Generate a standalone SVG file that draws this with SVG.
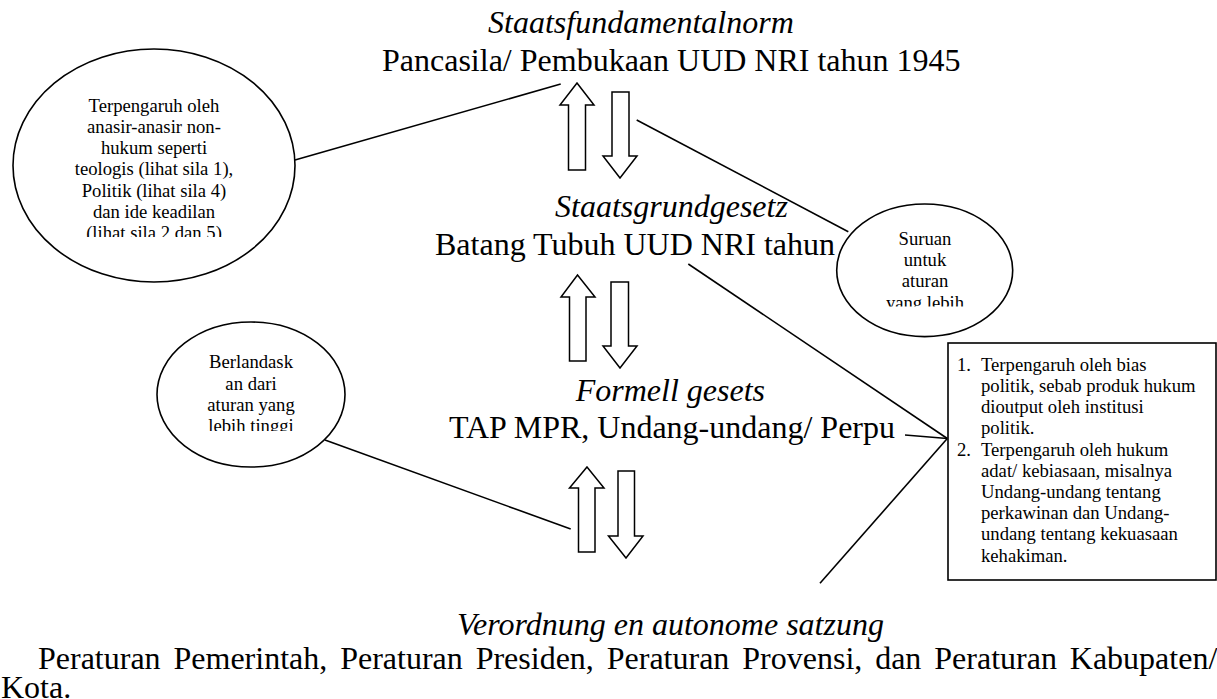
<svg xmlns="http://www.w3.org/2000/svg" width="1217" height="699" viewBox="0 0 1217 699">
<style>
  .bg { fill: #ffffff; }
  .shape { fill: #ffffff; stroke: #000000; stroke-width: 1.6; }
  .arrow { fill: #ffffff; stroke: #000000; stroke-width: 1.5; stroke-linejoin: miter; }
  .conn { fill: none; stroke: #000000; stroke-width: 1.6; }
  .main { font-family: "Liberation Serif", "Times New Roman", serif; font-size: 32px; fill: #000000; }
  .ital { font-family: "Liberation Serif", "Times New Roman", serif; font-size: 32px; font-style: italic; fill: #000000; }
  .small { font-family: "Liberation Serif", "Times New Roman", serif; font-size: 18.67px; fill: #000000; }
  .mid { text-anchor: middle; }
</style>
<defs>
  <clipPath id="clipBig"><rect x="0" y="0" width="320" height="237"/></clipPath>
  <clipPath id="clipRight"><rect x="820" y="180" width="210" height="126.5"/></clipPath>
  <clipPath id="clipLeft"><rect x="140" y="300" width="220" height="131"/></clipPath>
</defs>
<rect class="bg" x="0" y="0" width="1217" height="699"/>

<g id="connectors">
  <line class="conn" x1="295" y1="160" x2="560.7" y2="84"/>
  <line class="conn" x1="636.7" y1="120" x2="848.3" y2="231.7"/>
  <line class="conn" x1="688.3" y1="264" x2="947.3" y2="438.5"/>
  <line class="conn" x1="905" y1="435" x2="947.3" y2="438.5"/>
  <line class="conn" x1="820" y1="583.3" x2="947.3" y2="438.5"/>
  <line class="conn" x1="325" y1="440" x2="570.7" y2="529"/>
</g>

<g id="arrows1">
  <polygon class="arrow" points="577,83 594,105 585.5,105 585.5,170 568.5,170 568.5,105 560,105"/>
  <polygon class="arrow" points="612,92 629,92 629,156 637,156 620,178 603,156 612,156"/>
</g>
<g id="arrows2">
  <polygon class="arrow" points="577.5,275 595,297 586,297 586,361 569.5,361 569.5,297 561,297"/>
  <polygon class="arrow" points="611,282 628.5,282 628.5,346 637,346 620,368 603,346 611,346"/>
</g>
<g id="arrows3">
  <polygon class="arrow" points="587,467 604,488 595,488 595,552 578.5,552 578.5,488 569.5,488"/>
  <polygon class="arrow" points="618,471 634.5,471 634.5,536 643,536 626,558 608.5,536 618,536"/>
</g>

<g id="staatsfundamentalnorm">
  <text class="ital" x="488" y="33">Staatsfundamentalnorm</text>
  <text class="main" x="382" y="71">Pancasila/ Pembukaan UUD NRI tahun 1945</text>
</g>

<g id="staatsgrundgesetz">
  <text class="ital" x="555" y="217">Staatsgrundgesetz</text>
  <text class="main" x="835" y="255" text-anchor="end">Batang Tubuh UUD NRI tahun</text>
</g>

<g id="formell">
  <text class="ital" x="765" y="401" text-anchor="end">Formell gesets</text>
  <text class="main" x="895" y="438" text-anchor="end">TAP MPR, Undang-undang/ Perpu</text>
</g>

<g id="verordnung">
  <text class="ital" x="457" y="635">Verordnung en autonome satzung</text>
  <text class="main" x="38" y="669" word-spacing="4.9">Peraturan Pemerintah, Peraturan Presiden, Peraturan Provensi, dan Peraturan Kabupaten/</text>
  <text class="main" x="1" y="698">Kota.</text>
</g>

<g id="ellipse-nonhukum">
  <ellipse class="shape" cx="154" cy="165.5" rx="141" ry="116.5"/>
  <g clip-path="url(#clipBig)">
    <text class="small mid" x="154" y="111.7">Terpengaruh oleh</text>
    <text class="small mid" x="154" y="132.9">anasir-anasir non-</text>
    <text class="small mid" x="154" y="154.1">hukum seperti</text>
    <text class="small mid" x="154" y="175.3">teologis (lihat sila 1),</text>
    <text class="small mid" x="154" y="196.5">Politik (lihat sila 4)</text>
    <text class="small mid" x="154" y="217.7">dan ide keadilan</text>
    <text class="small mid" x="154" y="238.9">(lihat sila 2 dan 5)</text>
  </g>
</g>

<g id="ellipse-suruan">
  <ellipse class="shape" cx="924.7" cy="270.3" rx="88" ry="66.3"/>
  <g clip-path="url(#clipRight)">
    <text class="small mid" x="925" y="245">Suruan</text>
    <text class="small mid" x="925" y="266.2">untuk</text>
    <text class="small mid" x="925" y="287.4">aturan</text>
    <text class="small mid" x="925" y="308.6">yang lebih</text>
  </g>
</g>

<g id="ellipse-berlandaskan">
  <ellipse class="shape" cx="251" cy="394.5" rx="94" ry="72.5"/>
  <g clip-path="url(#clipLeft)">
    <text class="small mid" x="251" y="368.3">Berlandask</text>
    <text class="small mid" x="251" y="389.5">an dari</text>
    <text class="small mid" x="251" y="410.7">aturan yang</text>
    <text class="small mid" x="251" y="431.9">lebih tinggi</text>
  </g>
</g>

<g id="box-pengaruh">
  <rect class="shape" x="948" y="343" width="268" height="237"/>
  <text class="small" x="957" y="370.7">1.</text>
  <text class="small" x="981" y="370.7">Terpengaruh oleh bias</text>
  <text class="small" x="981" y="391.9">politik, sebab produk hukum</text>
  <text class="small" x="981" y="413.1">dioutput oleh institusi</text>
  <text class="small" x="981" y="434.3">politik.</text>
  <text class="small" x="957" y="455.5">2.</text>
  <text class="small" x="981" y="455.5">Terpengaruh oleh hukum</text>
  <text class="small" x="981" y="476.7">adat/ kebiasaan, misalnya</text>
  <text class="small" x="981" y="497.9">Undang-undang tentang</text>
  <text class="small" x="981" y="519.1">perkawinan dan Undang-</text>
  <text class="small" x="981" y="540.3">undang tentang kekuasaan</text>
  <text class="small" x="981" y="561.5">kehakiman.</text>
</g>
</svg>
